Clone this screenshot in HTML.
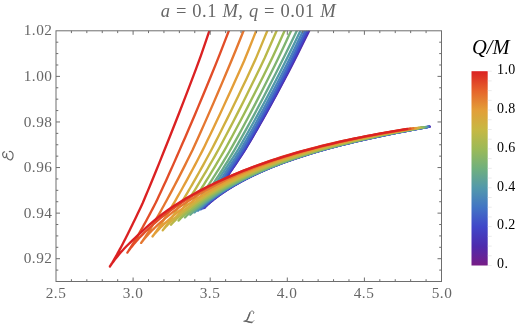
<!DOCTYPE html>
<html><head><meta charset="utf-8"><style>
html,body{margin:0;padding:0;background:#fff;}
body{width:523px;height:328px;position:relative;overflow:hidden;font-family:"Liberation Serif",serif;}
svg{position:absolute;left:0;top:0;}
.xl,.yl,.cl,.title,.qm{will-change:transform;}
.xl{position:absolute;top:284px;width:40px;text-align:center;font-size:15.3px;letter-spacing:0.5px;color:#666;line-height:18px;}
.yl{position:absolute;left:0;width:52.5px;text-align:right;font-size:15.3px;letter-spacing:0.5px;color:#666;line-height:18px;}
.cl{position:absolute;left:497px;font-size:14px;letter-spacing:0.4px;color:#000;line-height:18px;}
.title{position:absolute;left:0;width:497px;top:0px;text-align:center;font-size:18.5px;letter-spacing:0.5px;word-spacing:0.3px;color:#666;line-height:22px;white-space:pre;}
.qm{position:absolute;left:472px;top:36px;font-size:20.5px;font-style:italic;color:#000;line-height:22px;}
</style></head><body>
<svg width="523" height="328" viewBox="0 0 523 328">
<defs><clipPath id="c"><rect x="56.0" y="30.8" width="385.5" height="250.7"/></clipPath>
<linearGradient id="g" x1="0" y1="0" x2="0" y2="1"><stop offset="0.00" stop-color="#db2122"/><stop offset="0.05" stop-color="#e04227"/><stop offset="0.10" stop-color="#e6632b"/><stop offset="0.15" stop-color="#e48132"/><stop offset="0.20" stop-color="#e39e38"/><stop offset="0.25" stop-color="#d5ab3d"/><stop offset="0.30" stop-color="#c7b842"/><stop offset="0.35" stop-color="#b1b94d"/><stop offset="0.40" stop-color="#9cba57"/><stop offset="0.45" stop-color="#86b56a"/><stop offset="0.50" stop-color="#70b07d"/><stop offset="0.55" stop-color="#61a494"/><stop offset="0.60" stop-color="#5299ab"/><stop offset="0.65" stop-color="#4a87b8"/><stop offset="0.70" stop-color="#4275c4"/><stop offset="0.75" stop-color="#415ec7"/><stop offset="0.80" stop-color="#4047c9"/><stop offset="0.85" stop-color="#4639bb"/><stop offset="0.90" stop-color="#4d2bad"/><stop offset="0.95" stop-color="#62249a"/><stop offset="1.00" stop-color="#781c86"/></linearGradient></defs>
<g clip-path="url(#c)" fill="none" stroke-width="2.35" stroke-linecap="round" stroke-linejoin="round">
<path d="M326.37 -3.92 L319.81 9.36 L313.66 21.69 L307.93 33.13 L302.70 43.78 L297.78 53.70 L293.10 62.95 L288.61 71.59 L284.37 79.67 L280.36 87.24 L276.56 94.33 L272.96 100.97 L269.55 107.21 L266.30 113.07 L263.22 118.58 L260.30 123.77 L257.51 128.65 L254.86 133.24 L252.34 137.58 L249.94 141.66 L247.65 145.52 L245.47 149.15 L243.25 152.59 L241.13 155.83 L239.11 158.90 L237.18 161.80 L235.35 164.54 L233.59 167.13 L231.92 169.58 L230.32 171.89 L228.84 174.09 L227.50 176.16 L226.22 178.13 L225.00 179.98 L223.83 181.74 L222.72 183.41 L221.65 184.98 L220.63 186.47 L219.66 187.88 L218.74 189.21 L217.85 190.47 L217.01 191.66 L216.21 192.79 L215.44 193.85 L214.71 194.86 L214.02 195.80 L213.36 196.70 L212.73 197.54 L212.13 198.34 L211.57 199.08 L211.03 199.79 L210.52 200.45 L210.03 201.07 L209.58 201.65 L209.14 202.20 L208.74 202.71 L208.35 203.19 L207.99 203.64 L207.65 204.05 L207.33 204.44 L207.04 204.80 L206.76 205.13 L206.50 205.43 L206.26 205.72 L206.04 205.97 L205.84 206.21 L205.65 206.43 L205.48 206.62 L205.33 206.79 L205.19 206.95 L205.06 207.09 L204.96 207.21 L204.86 207.31 L204.78 207.40 L204.71 207.47 L204.66 207.53 L204.62 207.58 L204.59 207.61 L204.57 207.63 L204.56 207.63 L204.56 207.63 L204.56 207.63 L204.57 207.63 L204.57 207.62 L204.58 207.62 L204.60 207.60 L204.62 207.57 L204.66 207.53 L204.72 207.46 L204.80 207.38 L204.91 207.27 L205.05 207.13 L205.22 206.95 L205.44 206.74 L205.69 206.48 L206.00 206.18 L206.37 205.83 L206.79 205.43 L207.27 204.98 L207.82 204.48 L208.44 203.92 L209.13 203.30 L209.91 202.63 L210.76 201.90 L211.69 201.12 L212.71 200.28 L213.81 199.39 L215.01 198.46 L216.29 197.47 L217.66 196.44 L219.12 195.36 L220.68 194.25 L222.33 193.10 L224.07 191.91 L225.91 190.69 L227.83 189.44 L229.85 188.17 L231.96 186.88 L234.16 185.56 L236.45 184.23 L238.83 182.88 L241.29 181.52 L243.84 180.16 L246.48 178.78 L249.20 177.40 L252.00 176.02 L254.89 174.64 L257.85 173.26 L260.89 171.89 L264.01 170.51 L267.20 169.15 L270.47 167.79 L273.80 166.44 L277.21 165.10 L280.68 163.76 L284.23 162.44 L287.83 161.14 L291.50 159.84 L295.24 158.56 L299.03 157.29 L302.88 156.04 L306.80 154.80 L310.76 153.58 L314.78 152.37 L318.86 151.17 L322.99 149.99 L327.17 148.83 L331.40 147.68 L335.67 146.55 L340.00 145.44 L344.37 144.34 L348.78 143.25 L353.24 142.18 L357.74 141.12 L362.28 140.08 L366.87 139.05 L371.49 138.04 L376.15 137.03 L380.85 136.04 L385.59 135.06 L390.36 134.09 L395.16 133.14 L400.01 132.19 L404.88 131.24 L409.78 130.31 L414.72 129.38 L419.69 128.46 L424.69 127.54 L429.72 126.62" stroke="#5a27a2"/>
<path d="M325.71 -3.94 L319.16 9.36 L313.02 21.70 L307.31 33.16 L302.12 43.82 L297.23 53.75 L292.58 63.02 L288.11 71.67 L283.89 79.76 L279.90 87.33 L276.12 94.43 L272.54 101.09 L269.14 107.33 L265.91 113.20 L262.84 118.72 L259.93 123.91 L257.16 128.80 L254.52 133.40 L252.01 137.74 L249.62 141.83 L247.34 145.69 L245.16 149.33 L242.93 152.77 L240.80 156.02 L238.77 159.09 L236.83 161.99 L234.98 164.73 L233.22 167.32 L231.54 169.78 L229.93 172.10 L228.45 174.29 L227.10 176.37 L225.82 178.34 L224.59 180.20 L223.42 181.96 L222.30 183.63 L221.23 185.20 L220.21 186.69 L219.24 188.10 L218.31 189.44 L217.42 190.70 L216.57 191.89 L215.77 193.02 L215.00 194.09 L214.27 195.09 L213.57 196.04 L212.91 196.94 L212.28 197.78 L211.68 198.58 L211.11 199.32 L210.57 200.03 L210.06 200.69 L209.57 201.31 L209.11 201.90 L208.68 202.45 L208.27 202.96 L207.89 203.44 L207.52 203.88 L207.18 204.30 L206.86 204.69 L206.57 205.04 L206.29 205.38 L206.03 205.68 L205.79 205.97 L205.57 206.22 L205.36 206.46 L205.17 206.68 L205.00 206.87 L204.85 207.05 L204.71 207.20 L204.59 207.34 L204.48 207.46 L204.38 207.56 L204.30 207.65 L204.23 207.73 L204.18 207.78 L204.14 207.83 L204.11 207.86 L204.09 207.88 L204.09 207.88 L204.09 207.88 L204.09 207.88 L204.09 207.88 L204.09 207.88 L204.10 207.87 L204.12 207.85 L204.15 207.82 L204.19 207.78 L204.25 207.72 L204.33 207.63 L204.43 207.52 L204.57 207.38 L204.75 207.20 L204.96 206.99 L205.22 206.73 L205.53 206.43 L205.90 206.08 L206.32 205.68 L206.81 205.23 L207.36 204.72 L207.99 204.16 L208.69 203.54 L209.46 202.86 L210.32 202.13 L211.26 201.35 L212.28 200.51 L213.39 199.62 L214.59 198.67 L215.88 197.68 L217.26 196.65 L218.73 195.57 L220.29 194.45 L221.95 193.29 L223.70 192.10 L225.54 190.88 L227.47 189.62 L229.49 188.34 L231.61 187.04 L233.82 185.72 L236.11 184.38 L238.50 183.03 L240.97 181.66 L243.53 180.29 L246.17 178.91 L248.90 177.52 L251.71 176.14 L254.60 174.75 L257.56 173.36 L260.61 171.98 L263.73 170.60 L266.93 169.23 L270.20 167.86 L273.54 166.51 L276.95 165.16 L280.43 163.83 L283.98 162.50 L287.59 161.19 L291.27 159.89 L295.01 158.61 L298.80 157.33 L302.66 156.08 L306.58 154.84 L310.55 153.61 L314.57 152.40 L318.65 151.20 L322.79 150.02 L326.97 148.86 L331.20 147.71 L335.48 146.58 L339.81 145.46 L344.18 144.36 L348.60 143.27 L353.07 142.20 L357.57 141.14 L362.12 140.10 L366.71 139.07 L371.33 138.05 L376.00 137.05 L380.70 136.06 L385.44 135.08 L390.22 134.11 L395.03 133.15 L399.87 132.20 L404.75 131.26 L409.66 130.32 L414.60 129.39 L419.57 128.47 L424.57 127.55 L429.60 126.63" stroke="#4836b8"/>
<path d="M324.37 -3.96 L317.83 9.38 L311.70 21.75 L306.00 33.24 L300.82 43.93 L295.93 53.89 L291.30 63.18 L286.86 71.85 L282.67 79.97 L278.70 87.56 L274.94 94.68 L271.38 101.35 L268.00 107.61 L264.79 113.50 L261.74 119.03 L258.84 124.23 L256.09 129.13 L253.46 133.75 L250.97 138.10 L248.59 142.20 L246.32 146.07 L244.14 149.72 L241.89 153.17 L239.75 156.43 L237.71 159.51 L235.76 162.42 L233.91 165.17 L232.14 167.77 L230.45 170.23 L228.84 172.56 L227.36 174.76 L226.01 176.84 L224.71 178.81 L223.48 180.68 L222.30 182.44 L221.17 184.11 L220.09 185.70 L219.07 187.19 L218.08 188.61 L217.15 189.94 L216.26 191.21 L215.40 192.41 L214.59 193.54 L213.82 194.60 L213.08 195.61 L212.38 196.56 L211.71 197.46 L211.08 198.31 L210.48 199.11 L209.90 199.86 L209.36 200.57 L208.85 201.23 L208.36 201.85 L207.90 202.44 L207.46 202.99 L207.05 203.50 L206.66 203.98 L206.30 204.43 L205.96 204.85 L205.64 205.24 L205.34 205.60 L205.06 205.93 L204.80 206.24 L204.56 206.52 L204.33 206.78 L204.13 207.02 L203.94 207.23 L203.77 207.43 L203.61 207.60 L203.47 207.76 L203.35 207.90 L203.24 208.02 L203.14 208.12 L203.06 208.21 L202.99 208.29 L202.94 208.34 L202.90 208.39 L202.87 208.42 L202.85 208.44 L202.84 208.44 L202.84 208.44 L202.85 208.44 L202.85 208.44 L202.85 208.44 L202.86 208.43 L202.88 208.41 L202.91 208.38 L202.95 208.34 L203.01 208.27 L203.09 208.19 L203.20 208.08 L203.34 207.93 L203.52 207.76 L203.73 207.54 L204.00 207.28 L204.31 206.98 L204.68 206.63 L205.11 206.22 L205.60 205.77 L206.16 205.26 L206.79 204.69 L207.50 204.07 L208.28 203.39 L209.15 202.65 L210.10 201.86 L211.13 201.02 L212.25 200.12 L213.46 199.17 L214.76 198.17 L216.16 197.13 L217.64 196.04 L219.22 194.92 L220.89 193.75 L222.65 192.55 L224.50 191.31 L226.45 190.05 L228.49 188.76 L230.62 187.44 L232.84 186.11 L235.15 184.76 L237.55 183.39 L240.04 182.02 L242.61 180.63 L245.27 179.23 L248.01 177.84 L250.83 176.43 L253.74 175.03 L256.72 173.63 L259.78 172.24 L262.92 170.84 L266.13 169.46 L269.41 168.08 L272.77 166.71 L276.19 165.35 L279.68 164.00 L283.24 162.67 L286.87 161.35 L290.56 160.04 L294.31 158.74 L298.12 157.46 L301.99 156.20 L305.92 154.95 L309.90 153.71 L313.94 152.49 L318.03 151.29 L322.18 150.10 L326.37 148.93 L330.62 147.78 L334.91 146.64 L339.25 145.52 L343.64 144.42 L348.07 143.32 L352.54 142.25 L357.06 141.19 L361.62 140.14 L366.22 139.11 L370.86 138.09 L375.53 137.09 L380.25 136.10 L385.00 135.11 L389.79 134.14 L394.61 133.18 L399.46 132.23 L404.35 131.29 L409.27 130.36 L414.22 129.43 L419.21 128.50 L424.22 127.58 L429.26 126.66" stroke="#4049c9"/>
<path d="M322.53 -3.98 L316.00 9.42 L309.88 21.84 L304.20 33.38 L299.03 44.11 L294.16 54.11 L289.53 63.44 L285.09 72.15 L280.88 80.30 L276.91 87.92 L273.14 95.07 L269.58 101.77 L266.19 108.06 L262.98 113.97 L259.93 119.52 L257.03 124.75 L254.27 129.67 L251.64 134.30 L249.14 138.67 L246.76 142.79 L244.50 146.67 L242.28 150.34 L240.02 153.81 L237.87 157.08 L235.82 160.17 L233.87 163.09 L232.01 165.85 L230.23 168.47 L228.54 170.94 L226.92 173.27 L225.47 175.49 L224.11 177.58 L222.81 179.56 L221.56 181.43 L220.37 183.21 L219.24 184.88 L218.16 186.47 L217.13 187.97 L216.14 189.39 L215.20 190.74 L214.30 192.01 L213.44 193.21 L212.63 194.35 L211.85 195.42 L211.11 196.43 L210.41 197.39 L209.74 198.29 L209.10 199.14 L208.49 199.94 L207.92 200.70 L207.37 201.41 L206.85 202.08 L206.36 202.70 L205.90 203.29 L205.46 203.84 L205.05 204.36 L204.66 204.84 L204.30 205.29 L203.95 205.71 L203.63 206.10 L203.33 206.46 L203.05 206.80 L202.79 207.11 L202.55 207.39 L202.32 207.65 L202.12 207.89 L201.93 208.11 L201.75 208.30 L201.60 208.48 L201.46 208.64 L201.33 208.77 L201.22 208.90 L201.13 209.00 L201.05 209.09 L200.98 209.16 L200.92 209.22 L200.88 209.27 L200.85 209.30 L200.83 209.32 L200.83 209.32 L200.83 209.32 L200.83 209.32 L200.83 209.32 L200.84 209.32 L200.84 209.31 L200.86 209.29 L200.89 209.26 L200.93 209.21 L200.99 209.15 L201.08 209.07 L201.19 208.95 L201.33 208.81 L201.51 208.63 L201.73 208.41 L202.00 208.15 L202.32 207.84 L202.70 207.49 L203.13 207.08 L203.63 206.62 L204.20 206.10 L204.85 205.53 L205.56 204.90 L206.36 204.22 L207.24 203.48 L208.20 202.68 L209.25 201.83 L210.39 200.92 L211.61 199.97 L212.93 198.96 L214.34 197.91 L215.84 196.81 L217.44 195.67 L219.13 194.49 L220.91 193.28 L222.79 192.03 L224.76 190.76 L226.82 189.45 L228.97 188.12 L231.22 186.77 L233.55 185.41 L235.97 184.02 L238.48 182.63 L241.08 181.22 L243.76 179.81 L246.52 178.39 L249.37 176.97 L252.30 175.54 L255.30 174.12 L258.39 172.70 L261.55 171.29 L264.78 169.88 L268.09 168.48 L271.47 167.09 L274.91 165.71 L278.43 164.35 L282.01 162.99 L285.66 161.65 L289.37 160.32 L293.14 159.01 L296.97 157.71 L300.86 156.43 L304.81 155.16 L308.82 153.91 L312.88 152.68 L316.99 151.46 L321.16 150.26 L325.37 149.08 L329.64 147.92 L333.95 146.77 L338.31 145.64 L342.72 144.52 L347.17 143.43 L351.67 142.34 L356.20 141.28 L360.78 140.23 L365.40 139.19 L370.06 138.17 L374.76 137.16 L379.49 136.16 L384.26 135.18 L389.07 134.21 L393.91 133.24 L398.78 132.29 L403.69 131.35 L408.63 130.41 L413.60 129.48 L418.60 128.56 L423.63 127.64 L428.69 126.72" stroke="#4267c6"/>
<path d="M320.17 -4.01 L313.66 9.46 L307.55 21.96 L301.88 33.57 L296.69 44.37 L291.81 54.43 L287.16 63.82 L282.69 72.59 L278.47 80.78 L274.47 88.46 L270.69 95.65 L267.10 102.39 L263.70 108.72 L260.48 114.67 L257.41 120.26 L254.50 125.51 L251.73 130.46 L249.10 135.13 L246.59 139.52 L244.20 143.67 L241.92 147.58 L239.65 151.27 L237.39 154.76 L235.23 158.05 L233.18 161.16 L231.22 164.10 L229.35 166.88 L227.57 169.51 L225.87 172.00 L224.28 174.35 L222.84 176.58 L221.46 178.68 L220.15 180.68 L218.89 182.56 L217.70 184.35 L216.55 186.04 L215.46 187.63 L214.42 189.15 L213.43 190.58 L212.48 191.93 L211.57 193.21 L210.71 194.42 L209.89 195.56 L209.11 196.64 L208.36 197.66 L207.65 198.62 L206.98 199.53 L206.33 200.39 L205.72 201.20 L205.14 201.96 L204.60 202.67 L204.08 203.34 L203.58 203.98 L203.12 204.57 L202.68 205.12 L202.26 205.64 L201.87 206.13 L201.50 206.58 L201.16 207.00 L200.83 207.40 L200.53 207.76 L200.25 208.10 L199.98 208.41 L199.74 208.70 L199.52 208.96 L199.31 209.20 L199.12 209.42 L198.95 209.61 L198.79 209.79 L198.65 209.95 L198.52 210.09 L198.41 210.21 L198.32 210.32 L198.23 210.41 L198.17 210.48 L198.11 210.54 L198.07 210.59 L198.04 210.62 L198.02 210.64 L198.01 210.64 L198.01 210.64 L198.02 210.64 L198.02 210.64 L198.02 210.64 L198.03 210.63 L198.05 210.61 L198.08 210.58 L198.12 210.53 L198.18 210.47 L198.27 210.38 L198.38 210.26 L198.53 210.12 L198.71 209.94 L198.94 209.71 L199.22 209.45 L199.54 209.14 L199.93 208.77 L200.37 208.36 L200.88 207.89 L201.46 207.37 L202.12 206.79 L202.85 206.16 L203.66 205.46 L204.56 204.71 L205.54 203.90 L206.61 203.04 L207.76 202.13 L209.01 201.16 L210.35 200.14 L211.79 199.08 L213.32 197.97 L214.94 196.81 L216.65 195.62 L218.46 194.39 L220.37 193.13 L222.37 191.84 L224.46 190.52 L226.64 189.17 L228.92 187.81 L231.28 186.42 L233.73 185.02 L236.28 183.60 L238.90 182.17 L241.62 180.74 L244.41 179.30 L247.29 177.85 L250.25 176.40 L253.29 174.96 L256.41 173.51 L259.60 172.07 L262.87 170.64 L266.21 169.21 L269.62 167.79 L273.10 166.38 L276.65 164.98 L280.26 163.60 L283.94 162.23 L287.68 160.87 L291.49 159.53 L295.35 158.20 L299.27 156.89 L303.25 155.59 L307.29 154.32 L311.38 153.06 L315.53 151.82 L319.72 150.59 L323.97 149.39 L328.26 148.20 L332.61 147.03 L337.00 145.88 L341.43 144.74 L345.91 143.63 L350.44 142.53 L355.00 141.44 L359.61 140.38 L364.26 139.33 L368.94 138.30 L373.67 137.28 L378.43 136.27 L383.23 135.28 L388.06 134.30 L392.93 133.33 L397.83 132.38 L402.76 131.43 L407.73 130.49 L412.72 129.56 L417.75 128.64 L422.81 127.72 L427.89 126.80" stroke="#4882bb"/>
<path d="M317.28 -4.07 L310.77 9.53 L304.67 22.13 L298.98 33.84 L293.71 44.73 L288.75 54.87 L284.03 64.34 L279.54 73.18 L275.29 81.45 L271.27 89.18 L267.47 96.43 L263.86 103.23 L260.44 109.62 L257.20 115.61 L254.12 121.25 L251.19 126.55 L248.41 131.55 L245.76 136.25 L243.24 140.68 L240.84 144.86 L238.56 148.81 L236.22 152.53 L233.96 156.05 L231.80 159.37 L229.74 162.50 L227.78 165.47 L225.90 168.27 L224.12 170.93 L222.42 173.44 L220.87 175.81 L219.42 178.05 L218.04 180.18 L216.72 182.19 L215.45 184.09 L214.25 185.89 L213.10 187.60 L212.00 189.21 L210.95 190.74 L209.95 192.18 L209.00 193.55 L208.09 194.84 L207.22 196.06 L206.40 197.21 L205.61 198.30 L204.86 199.33 L204.15 200.30 L203.47 201.22 L202.82 202.08 L202.21 202.90 L201.63 203.66 L201.08 204.39 L200.55 205.06 L200.06 205.70 L199.59 206.30 L199.15 206.86 L198.73 207.38 L198.34 207.87 L197.97 208.33 L197.62 208.76 L197.30 209.15 L196.99 209.52 L196.71 209.86 L196.44 210.18 L196.20 210.47 L195.97 210.73 L195.77 210.97 L195.58 211.19 L195.40 211.39 L195.25 211.57 L195.10 211.73 L194.98 211.87 L194.87 212.00 L194.77 212.10 L194.69 212.19 L194.62 212.27 L194.56 212.33 L194.52 212.38 L194.49 212.41 L194.48 212.43 L194.47 212.43 L194.47 212.43 L194.47 212.43 L194.47 212.43 L194.48 212.42 L194.49 212.41 L194.50 212.39 L194.53 212.36 L194.58 212.32 L194.64 212.25 L194.73 212.16 L194.85 212.04 L195.00 211.89 L195.19 211.70 L195.42 211.47 L195.70 211.20 L196.04 210.87 L196.43 210.50 L196.89 210.08 L197.41 209.59 L198.01 209.06 L198.68 208.46 L199.43 207.81 L200.26 207.09 L201.17 206.32 L202.18 205.50 L203.27 204.61 L204.45 203.68 L205.72 202.68 L207.09 201.64 L208.55 200.56 L210.11 199.42 L211.76 198.24 L213.51 197.03 L215.35 195.77 L217.29 194.49 L219.32 193.17 L221.45 191.82 L223.67 190.45 L225.98 189.06 L228.38 187.64 L230.88 186.22 L233.46 184.77 L236.12 183.32 L238.87 181.86 L241.71 180.39 L244.63 178.92 L247.63 177.44 L250.71 175.97 L253.87 174.50 L257.10 173.03 L260.41 171.57 L263.79 170.12 L267.24 168.67 L270.76 167.23 L274.35 165.81 L278.00 164.39 L281.72 162.99 L285.51 161.61 L289.35 160.24 L293.26 158.88 L297.22 157.54 L301.24 156.22 L305.31 154.91 L309.45 153.62 L313.63 152.35 L317.86 151.10 L322.15 149.87 L326.48 148.65 L330.86 147.45 L335.29 146.27 L339.77 145.11 L344.29 143.97 L348.85 142.85 L353.45 141.74 L358.09 140.65 L362.78 139.58 L367.50 138.52 L372.26 137.48 L377.06 136.46 L381.89 135.45 L386.76 134.46 L391.66 133.48 L396.60 132.51 L401.57 131.55 L406.57 130.61 L411.60 129.67 L416.66 128.75 L421.75 127.83 L426.87 126.91" stroke="#5299aa"/>
<path d="M313.46 -4.14 L306.96 9.60 L300.87 22.34 L295.16 34.18 L289.81 45.18 L284.78 55.44 L280.01 65.01 L275.48 73.94 L271.20 82.30 L267.15 90.12 L263.32 97.45 L259.69 104.32 L256.25 110.77 L252.99 116.83 L249.89 122.53 L246.95 127.89 L244.15 132.94 L241.48 137.69 L238.95 142.17 L236.54 146.40 L234.23 150.39 L231.95 154.15 L229.79 157.70 L227.72 161.06 L225.75 164.23 L223.88 167.23 L222.08 170.07 L220.38 172.75 L218.74 175.29 L217.19 177.69 L215.70 179.96 L214.29 182.11 L212.93 184.14 L211.64 186.06 L210.41 187.89 L209.23 189.61 L208.11 191.24 L207.04 192.78 L206.02 194.24 L205.04 195.62 L204.12 196.93 L203.23 198.17 L202.39 199.33 L201.58 200.43 L200.82 201.48 L200.09 202.46 L199.40 203.39 L198.74 204.26 L198.12 205.08 L197.52 205.86 L196.96 206.59 L196.43 207.28 L195.93 207.92 L195.45 208.53 L195.00 209.09 L194.57 209.63 L194.17 210.12 L193.80 210.58 L193.45 211.02 L193.12 211.42 L192.81 211.79 L192.52 212.13 L192.25 212.45 L192.00 212.74 L191.77 213.01 L191.56 213.26 L191.37 213.48 L191.19 213.68 L191.03 213.86 L190.89 214.03 L190.76 214.17 L190.65 214.29 L190.55 214.40 L190.47 214.49 L190.40 214.57 L190.34 214.63 L190.30 214.68 L190.27 214.71 L190.25 214.73 L190.25 214.73 L190.25 214.73 L190.25 214.73 L190.25 214.73 L190.25 214.73 L190.26 214.72 L190.28 214.70 L190.31 214.66 L190.36 214.61 L190.43 214.54 L190.52 214.45 L190.64 214.32 L190.79 214.16 L190.99 213.97 L191.23 213.73 L191.52 213.44 L191.87 213.10 L192.27 212.71 L192.74 212.27 L193.28 211.76 L193.89 211.20 L194.58 210.58 L195.35 209.90 L196.21 209.16 L197.15 208.36 L198.17 207.50 L199.29 206.58 L200.50 205.61 L201.81 204.59 L203.21 203.51 L204.71 202.38 L206.30 201.21 L207.99 200.00 L209.77 198.74 L211.66 197.45 L213.64 196.12 L215.71 194.77 L217.88 193.38 L220.14 191.97 L222.49 190.54 L224.94 189.09 L227.48 187.62 L230.10 186.14 L232.81 184.65 L235.61 183.15 L238.49 181.65 L241.46 180.14 L244.51 178.64 L247.63 177.13 L250.84 175.62 L254.12 174.12 L257.47 172.63 L260.90 171.14 L264.40 169.66 L267.97 168.20 L271.60 166.74 L275.30 165.30 L279.07 163.87 L282.90 162.45 L286.79 161.05 L290.74 159.66 L294.75 158.29 L298.82 156.94 L302.94 155.61 L307.12 154.29 L311.34 152.99 L315.62 151.71 L319.96 150.45 L324.33 149.21 L328.76 147.98 L333.23 146.78 L337.75 145.59 L342.31 144.42 L346.92 143.27 L351.56 142.14 L356.25 141.02 L360.98 139.93 L365.74 138.85 L370.55 137.78 L375.39 136.74 L380.26 135.71 L385.17 134.69 L390.12 133.69 L395.09 132.70 L400.10 131.73 L405.14 130.77 L410.22 129.82 L415.32 128.88 L420.45 127.96 L425.61 127.04" stroke="#67a98b"/>
<path d="M307.38 -4.18 L300.96 9.72 L294.94 22.62 L289.34 34.60 L284.18 45.74 L279.32 56.12 L274.62 65.80 L270.11 74.85 L265.84 83.31 L261.80 91.22 L257.99 98.64 L254.37 105.60 L250.94 112.13 L247.69 118.26 L244.60 124.03 L241.66 129.46 L238.87 134.57 L236.22 139.38 L233.70 143.92 L231.29 148.19 L228.95 152.23 L226.67 156.04 L224.50 159.64 L222.44 163.04 L220.47 166.25 L218.59 169.29 L216.79 172.16 L215.08 174.88 L213.45 177.44 L211.90 179.88 L210.41 182.17 L208.99 184.35 L207.64 186.41 L206.35 188.36 L205.12 190.20 L203.94 191.95 L202.82 193.60 L201.75 195.17 L200.73 196.64 L199.75 198.04 L198.83 199.37 L197.94 200.62 L197.10 201.80 L196.30 202.92 L195.53 203.97 L194.81 204.97 L194.12 205.91 L193.46 206.79 L192.84 207.63 L192.24 208.42 L191.68 209.16 L191.15 209.85 L190.65 210.50 L190.17 211.12 L189.72 211.69 L189.30 212.23 L188.90 212.73 L188.52 213.20 L188.17 213.64 L187.84 214.05 L187.53 214.42 L187.25 214.77 L186.98 215.10 L186.73 215.39 L186.50 215.67 L186.29 215.91 L186.10 216.14 L185.92 216.34 L185.76 216.53 L185.62 216.69 L185.49 216.84 L185.38 216.96 L185.28 217.07 L185.20 217.17 L185.13 217.24 L185.08 217.31 L185.03 217.35 L185.00 217.39 L184.98 217.40 L184.98 217.41 L184.98 217.41 L184.98 217.41 L184.98 217.41 L184.99 217.40 L185.00 217.39 L185.02 217.37 L185.05 217.33 L185.10 217.28 L185.17 217.21 L185.26 217.11 L185.39 216.97 L185.55 216.80 L185.75 216.59 L186.01 216.34 L186.31 216.03 L186.67 215.68 L187.09 215.26 L187.58 214.79 L188.14 214.26 L188.77 213.67 L189.49 213.02 L190.28 212.30 L191.17 211.52 L192.14 210.68 L193.20 209.78 L194.35 208.82 L195.60 207.80 L196.95 206.72 L198.39 205.60 L199.93 204.42 L201.57 203.20 L203.31 201.93 L205.14 200.63 L207.07 199.28 L209.10 197.91 L211.23 196.50 L213.45 195.06 L215.77 193.60 L218.18 192.12 L220.68 190.62 L223.28 189.10 L225.96 187.58 L228.73 186.04 L231.59 184.50 L234.53 182.95 L237.56 181.39 L240.67 179.84 L243.85 178.29 L247.12 176.75 L250.46 175.21 L253.87 173.67 L257.36 172.15 L260.92 170.63 L264.55 169.13 L268.25 167.64 L272.01 166.16 L275.84 164.70 L279.73 163.25 L283.68 161.82 L287.69 160.40 L291.76 159.00 L295.88 157.62 L300.06 156.26 L304.30 154.92 L308.58 153.59 L312.92 152.28 L317.31 151.00 L321.74 149.73 L326.23 148.48 L330.76 147.25 L335.33 146.04 L339.95 144.85 L344.61 143.67 L349.31 142.52 L354.05 141.38 L358.83 140.27 L363.65 139.17 L368.50 138.08 L373.39 137.02 L378.32 135.97 L383.28 134.94 L388.28 133.92 L393.31 132.92 L398.37 131.93 L403.46 130.96 L408.58 129.99 L413.73 129.05 L418.92 128.11 L424.13 127.19" stroke="#7fb470"/>
<path d="M300.60 -4.21 L294.22 9.89 L288.24 22.97 L282.67 35.11 L277.52 46.41 L272.67 56.94 L267.94 66.76 L263.40 75.93 L259.11 84.50 L255.06 92.53 L251.22 100.05 L247.59 107.11 L244.15 113.73 L240.88 119.95 L237.78 125.80 L234.84 131.30 L232.04 136.48 L229.38 141.37 L226.85 145.97 L224.43 150.31 L222.07 154.40 L219.82 158.27 L217.67 161.92 L215.63 165.36 L213.68 168.62 L211.82 171.70 L210.04 174.62 L208.35 177.37 L206.74 179.98 L205.20 182.44 L203.73 184.78 L202.33 186.98 L200.99 189.07 L199.71 191.05 L198.49 192.92 L197.33 194.69 L196.22 196.37 L195.16 197.96 L194.15 199.46 L193.19 200.88 L192.27 202.22 L191.40 203.49 L190.57 204.69 L189.77 205.83 L189.02 206.90 L188.30 207.91 L187.62 208.86 L186.97 209.76 L186.35 210.61 L185.77 211.41 L185.21 212.16 L184.68 212.87 L184.19 213.53 L183.72 214.15 L183.27 214.74 L182.85 215.28 L182.46 215.79 L182.09 216.27 L181.74 216.72 L181.41 217.13 L181.11 217.51 L180.83 217.87 L180.56 218.19 L180.32 218.50 L180.09 218.77 L179.88 219.03 L179.69 219.25 L179.52 219.46 L179.36 219.65 L179.22 219.82 L179.09 219.96 L178.98 220.09 L178.89 220.20 L178.80 220.30 L178.74 220.38 L178.68 220.44 L178.64 220.49 L178.61 220.52 L178.59 220.54 L178.58 220.55 L178.58 220.55 L178.59 220.55 L178.59 220.54 L178.59 220.54 L178.60 220.52 L178.63 220.50 L178.66 220.46 L178.71 220.41 L178.78 220.33 L178.88 220.22 L179.02 220.07 L179.19 219.89 L179.40 219.66 L179.66 219.39 L179.98 219.06 L180.36 218.68 L180.80 218.24 L181.31 217.73 L181.89 217.16 L182.56 216.53 L183.30 215.83 L184.13 215.07 L185.05 214.24 L186.06 213.34 L187.17 212.39 L188.37 211.37 L189.67 210.29 L191.06 209.15 L192.56 207.96 L194.15 206.72 L195.85 205.44 L197.65 204.10 L199.54 202.73 L201.54 201.32 L203.63 199.87 L205.82 198.40 L208.11 196.90 L210.50 195.37 L212.98 193.82 L215.55 192.26 L218.22 190.68 L220.97 189.09 L223.82 187.49 L226.75 185.89 L229.76 184.28 L232.86 182.68 L236.05 181.07 L239.31 179.47 L242.65 177.87 L246.06 176.28 L249.55 174.70 L253.12 173.12 L256.75 171.56 L260.46 170.02 L264.23 168.48 L268.06 166.96 L271.97 165.46 L275.93 163.97 L279.95 162.51 L284.04 161.06 L288.18 159.62 L292.38 158.21 L296.63 156.82 L300.94 155.44 L305.30 154.09 L309.70 152.76 L314.16 151.44 L318.67 150.15 L323.22 148.88 L327.82 147.63 L332.46 146.39 L337.15 145.18 L341.87 143.99 L346.64 142.82 L351.45 141.67 L356.30 140.53 L361.18 139.42 L366.10 138.32 L371.06 137.25 L376.05 136.19 L381.08 135.14 L386.13 134.12 L391.23 133.11 L396.35 132.11 L401.50 131.13 L406.68 130.17 L411.90 129.22 L417.14 128.29 L422.41 127.37" stroke="#9cba56"/>
<path d="M292.10 -4.31 L285.80 10.06 L279.89 23.39 L274.43 35.76 L269.41 47.28 L264.68 58.00 L259.96 68.00 L255.42 77.35 L251.13 86.08 L247.08 94.26 L243.25 101.93 L239.62 109.11 L236.19 115.86 L232.93 122.20 L229.83 128.16 L226.89 133.77 L224.10 139.05 L221.45 144.02 L218.92 148.71 L216.48 153.13 L214.13 157.30 L211.89 161.24 L209.75 164.96 L207.72 168.48 L205.78 171.80 L203.93 174.94 L202.17 177.91 L200.49 180.72 L198.89 183.37 L197.36 185.89 L195.90 188.27 L194.51 190.52 L193.18 192.65 L191.91 194.67 L190.70 196.57 L189.54 198.38 L188.44 200.09 L187.39 201.71 L186.39 203.24 L185.43 204.69 L184.52 206.06 L183.66 207.35 L182.83 208.58 L182.04 209.74 L181.29 210.83 L180.58 211.86 L179.90 212.83 L179.26 213.75 L178.65 214.62 L178.06 215.43 L177.51 216.20 L176.99 216.92 L176.50 217.60 L176.03 218.23 L175.59 218.83 L175.18 219.39 L174.79 219.91 L174.42 220.40 L174.07 220.85 L173.75 221.27 L173.45 221.66 L173.17 222.02 L172.90 222.36 L172.66 222.67 L172.44 222.95 L172.23 223.21 L172.04 223.44 L171.87 223.66 L171.71 223.85 L171.57 224.02 L171.45 224.17 L171.34 224.30 L171.24 224.41 L171.16 224.51 L171.09 224.59 L171.04 224.65 L171.00 224.70 L170.97 224.74 L170.95 224.76 L170.95 224.76 L170.95 224.76 L170.95 224.76 L170.95 224.76 L170.95 224.75 L170.97 224.74 L170.99 224.71 L171.02 224.67 L171.08 224.61 L171.16 224.52 L171.26 224.40 L171.40 224.24 L171.59 224.04 L171.81 223.79 L172.09 223.49 L172.43 223.13 L172.82 222.71 L173.29 222.22 L173.83 221.67 L174.45 221.05 L175.15 220.36 L175.93 219.60 L176.80 218.77 L177.77 217.87 L178.83 216.90 L179.99 215.87 L181.24 214.77 L182.60 213.60 L184.06 212.38 L185.62 211.10 L187.28 209.77 L189.05 208.39 L190.91 206.96 L192.88 205.49 L194.96 203.99 L197.13 202.45 L199.40 200.88 L201.77 199.28 L204.24 197.66 L206.81 196.02 L209.47 194.36 L212.22 192.69 L215.06 191.01 L218.00 189.33 L221.02 187.64 L224.12 185.94 L227.31 184.25 L230.59 182.57 L233.94 180.88 L237.37 179.21 L240.88 177.55 L244.46 175.89 L248.11 174.25 L251.84 172.62 L255.63 171.01 L259.49 169.42 L263.42 167.84 L267.41 166.28 L271.47 164.74 L275.58 163.21 L279.75 161.71 L283.98 160.23 L288.27 158.78 L292.61 157.34 L297.00 155.93 L301.45 154.53 L305.94 153.17 L310.49 151.82 L315.08 150.50 L319.72 149.19 L324.40 147.92 L329.12 146.66 L333.89 145.43 L338.70 144.22 L343.55 143.03 L348.44 141.86 L353.37 140.71 L358.33 139.59 L363.33 138.48 L368.36 137.40 L373.43 136.34 L378.54 135.29 L383.67 134.27 L388.84 133.26 L394.04 132.27 L399.26 131.30 L404.52 130.34 L409.81 129.40 L415.12 128.48 L420.46 127.57" stroke="#b9b849"/>
<path d="M282.23 -4.47 L276.02 10.25 L270.21 23.90 L264.90 36.58 L260.06 48.37 L255.50 59.35 L250.80 69.60 L246.30 79.17 L242.05 88.12 L238.04 96.49 L234.24 104.34 L230.65 111.70 L227.24 118.61 L224.02 125.10 L220.95 131.21 L218.05 136.95 L215.28 142.36 L212.66 147.46 L210.14 152.26 L207.69 156.79 L205.37 161.06 L203.15 165.10 L201.04 168.91 L199.03 172.51 L197.11 175.92 L195.29 179.13 L193.54 182.18 L191.88 185.06 L190.30 187.78 L188.78 190.36 L187.34 192.79 L185.97 195.10 L184.65 197.29 L183.40 199.35 L182.20 201.31 L181.06 203.16 L179.97 204.92 L178.94 206.58 L177.95 208.15 L177.00 209.63 L176.10 211.04 L175.25 212.37 L174.43 213.62 L173.65 214.81 L172.91 215.93 L172.21 216.99 L171.54 217.99 L170.90 218.93 L170.30 219.82 L169.72 220.65 L169.18 221.44 L168.67 222.18 L168.18 222.88 L167.72 223.53 L167.28 224.14 L166.87 224.71 L166.49 225.25 L166.13 225.75 L165.78 226.22 L165.47 226.65 L165.17 227.05 L164.89 227.42 L164.63 227.77 L164.39 228.08 L164.17 228.37 L163.97 228.64 L163.78 228.88 L163.61 229.10 L163.46 229.29 L163.32 229.47 L163.20 229.62 L163.09 229.76 L162.99 229.88 L162.91 229.98 L162.85 230.06 L162.79 230.12 L162.75 230.17 L162.72 230.21 L162.70 230.23 L162.70 230.24 L162.70 230.24 L162.70 230.23 L162.70 230.23 L162.71 230.22 L162.72 230.21 L162.74 230.18 L162.78 230.13 L162.84 230.06 L162.93 229.96 L163.04 229.82 L163.19 229.64 L163.38 229.42 L163.62 229.14 L163.92 228.80 L164.28 228.40 L164.70 227.93 L165.19 227.39 L165.77 226.77 L166.42 226.08 L167.16 225.32 L167.98 224.47 L168.90 223.55 L169.92 222.56 L171.04 221.49 L172.25 220.35 L173.57 219.14 L174.99 217.86 L176.52 216.52 L178.15 215.12 L179.88 213.67 L181.72 212.16 L183.67 210.61 L185.72 209.01 L187.87 207.38 L190.13 205.71 L192.49 204.01 L194.95 202.29 L197.50 200.54 L200.16 198.78 L202.91 197.00 L205.75 195.21 L208.68 193.41 L211.71 191.61 L214.82 189.81 L218.02 188.00 L221.31 186.20 L224.67 184.41 L228.12 182.63 L231.64 180.85 L235.24 179.09 L238.92 177.35 L242.67 175.62 L246.49 173.90 L250.37 172.21 L254.33 170.53 L258.35 168.88 L262.43 167.25 L266.58 165.64 L270.79 164.05 L275.05 162.49 L279.37 160.95 L283.75 159.44 L288.18 157.95 L292.67 156.49 L297.20 155.05 L301.78 153.64 L306.42 152.26 L311.10 150.90 L315.82 149.57 L320.59 148.26 L325.41 146.98 L330.26 145.72 L335.16 144.49 L340.10 143.28 L345.07 142.10 L350.09 140.94 L355.14 139.80 L360.22 138.69 L365.34 137.60 L370.50 136.53 L375.69 135.48 L380.91 134.46 L386.16 133.45 L391.44 132.47 L396.75 131.50 L402.09 130.55 L407.46 129.62 L412.86 128.70 L418.28 127.80" stroke="#d1af3f"/>
<path d="M270.62 -4.54 L264.48 10.57 L258.73 24.58 L253.47 37.58 L248.64 49.69 L244.08 60.96 L239.40 71.47 L235.00 81.29 L230.84 90.47 L226.91 99.07 L223.19 107.12 L219.68 114.68 L216.34 121.77 L213.19 128.43 L210.19 134.70 L207.34 140.59 L204.64 146.15 L202.07 151.38 L199.52 156.31 L197.09 160.96 L194.78 165.35 L192.58 169.49 L190.48 173.40 L188.49 177.10 L186.59 180.60 L184.78 183.90 L183.05 187.03 L181.40 189.98 L179.83 192.78 L178.33 195.43 L176.90 197.93 L175.54 200.30 L174.23 202.55 L172.99 204.67 L171.81 206.68 L170.68 208.59 L169.60 210.39 L168.57 212.10 L167.59 213.71 L166.66 215.24 L165.77 216.68 L164.92 218.05 L164.11 219.34 L163.34 220.56 L162.61 221.71 L161.91 222.80 L161.25 223.83 L160.62 224.80 L160.02 225.71 L159.46 226.57 L158.92 227.38 L158.41 228.14 L157.93 228.86 L157.47 229.53 L157.04 230.16 L156.64 230.75 L156.26 231.30 L155.90 231.82 L155.56 232.30 L155.25 232.74 L154.95 233.15 L154.68 233.54 L154.42 233.89 L154.18 234.22 L153.97 234.52 L153.76 234.79 L153.58 235.04 L153.41 235.26 L153.26 235.46 L153.12 235.65 L153.00 235.80 L152.90 235.94 L152.80 236.06 L152.72 236.17 L152.66 236.25 L152.60 236.32 L152.56 236.37 L152.53 236.41 L152.52 236.43 L152.51 236.44 L152.51 236.44 L152.51 236.43 L152.52 236.43 L152.52 236.42 L152.54 236.40 L152.56 236.37 L152.60 236.31 L152.67 236.23 L152.76 236.12 L152.88 235.96 L153.05 235.76 L153.25 235.50 L153.52 235.18 L153.84 234.79 L154.22 234.33 L154.68 233.80 L155.21 233.19 L155.82 232.49 L156.52 231.72 L157.31 230.85 L158.20 229.91 L159.18 228.88 L160.26 227.76 L161.45 226.57 L162.74 225.30 L164.14 223.96 L165.65 222.54 L167.26 221.06 L168.98 219.52 L170.81 217.92 L172.75 216.27 L174.80 214.57 L176.96 212.82 L179.22 211.04 L181.59 209.23 L184.06 207.38 L186.63 205.51 L189.30 203.62 L192.07 201.72 L194.94 199.80 L197.90 197.88 L200.95 195.95 L204.10 194.02 L207.33 192.09 L210.65 190.17 L214.06 188.25 L217.55 186.35 L221.11 184.46 L224.76 182.58 L228.48 180.72 L232.28 178.88 L236.15 177.05 L240.09 175.25 L244.10 173.47 L248.18 171.72 L252.32 169.99 L256.52 168.29 L260.79 166.61 L265.12 164.96 L269.50 163.34 L273.94 161.74 L278.44 160.18 L282.98 158.64 L287.58 157.13 L292.24 155.65 L296.94 154.20 L301.68 152.78 L306.48 151.39 L311.32 150.02 L316.20 148.68 L321.12 147.38 L326.09 146.09 L331.10 144.84 L336.14 143.62 L341.23 142.42 L346.35 141.24 L351.51 140.09 L356.70 138.97 L361.93 137.87 L367.18 136.79 L372.48 135.74 L377.80 134.71 L383.15 133.70 L388.54 132.71 L393.95 131.74 L399.39 130.79 L404.86 129.86 L410.35 128.94 L415.87 128.04" stroke="#e39e38"/>
<path d="M257.53 -4.40 L251.43 11.10 L245.72 25.47 L240.36 38.81 L235.33 51.22 L230.59 62.78 L226.07 73.56 L221.80 83.63 L217.78 93.05 L213.98 101.86 L210.38 110.12 L206.98 117.87 L203.76 125.14 L200.70 131.98 L197.80 138.41 L195.05 144.45 L192.43 150.15 L189.81 155.51 L187.30 160.57 L184.91 165.35 L182.64 169.85 L180.47 174.10 L178.42 178.12 L176.45 181.91 L174.58 185.50 L172.80 188.90 L171.10 192.10 L169.49 195.14 L167.94 198.01 L166.47 200.73 L165.06 203.30 L163.72 205.74 L162.44 208.05 L161.23 210.23 L160.06 212.30 L158.95 214.25 L157.89 216.11 L156.88 217.86 L155.92 219.52 L155.01 221.09 L154.13 222.57 L153.30 223.98 L152.51 225.31 L151.75 226.56 L151.03 227.75 L150.35 228.87 L149.70 229.92 L149.08 230.92 L148.49 231.86 L147.94 232.75 L147.41 233.58 L146.91 234.36 L146.44 235.10 L145.99 235.79 L145.57 236.44 L145.18 237.04 L144.80 237.61 L144.45 238.14 L144.12 238.64 L143.81 239.10 L143.52 239.52 L143.25 239.92 L143.00 240.28 L142.77 240.62 L142.56 240.92 L142.36 241.21 L142.18 241.46 L142.01 241.69 L141.87 241.90 L141.73 242.09 L141.61 242.25 L141.51 242.40 L141.42 242.52 L141.34 242.63 L141.27 242.71 L141.22 242.78 L141.18 242.84 L141.15 242.87 L141.14 242.89 L141.13 242.90 L141.13 242.90 L141.13 242.90 L141.14 242.90 L141.14 242.89 L141.16 242.86 L141.19 242.82 L141.23 242.76 L141.30 242.67 L141.40 242.53 L141.54 242.35 L141.72 242.11 L141.95 241.81 L142.23 241.44 L142.58 241.00 L143.00 240.47 L143.50 239.86 L144.08 239.16 L144.74 238.37 L145.50 237.49 L146.35 236.52 L147.30 235.45 L148.36 234.29 L149.52 233.04 L150.79 231.71 L152.17 230.29 L153.67 228.80 L155.27 227.23 L156.99 225.59 L158.82 223.90 L160.76 222.14 L162.81 220.33 L164.98 218.47 L167.25 216.57 L169.63 214.64 L172.12 212.67 L174.72 210.68 L177.42 208.66 L180.22 206.63 L183.12 204.59 L186.11 202.54 L189.21 200.49 L192.40 198.43 L195.67 196.38 L199.04 194.34 L202.50 192.30 L206.03 190.28 L209.66 188.27 L213.36 186.28 L217.14 184.31 L221.00 182.36 L224.93 180.43 L228.93 178.53 L233.01 176.65 L237.15 174.80 L241.36 172.97 L245.63 171.18 L249.96 169.41 L254.36 167.67 L258.82 165.97 L263.33 164.29 L267.90 162.65 L272.52 161.03 L277.20 159.45 L281.93 157.90 L286.70 156.38 L291.53 154.89 L296.40 153.43 L301.32 152.00 L306.29 150.61 L311.29 149.24 L316.34 147.90 L321.43 146.59 L326.56 145.32 L331.73 144.07 L336.94 142.84 L342.18 141.65 L347.46 140.48 L352.77 139.34 L358.12 138.22 L363.49 137.13 L368.90 136.07 L374.34 135.02 L379.82 134.00 L385.32 133.00 L390.84 132.03 L396.40 131.07 L401.98 130.13 L407.59 129.22 L413.22 128.31" stroke="#e57730"/>
<path d="M242.08 -4.39 L236.08 11.69 L230.48 26.59 L225.14 40.44 L220.10 53.32 L215.33 65.31 L210.77 76.50 L206.47 86.95 L202.42 96.73 L198.60 105.88 L194.99 114.46 L191.57 122.50 L188.33 130.06 L185.26 137.16 L182.35 143.83 L179.59 150.12 L177.01 156.03 L174.56 161.61 L172.23 166.87 L170.01 171.83 L167.90 176.51 L165.90 180.93 L163.99 185.11 L162.16 189.06 L160.43 192.79 L158.77 196.32 L157.19 199.66 L155.69 202.82 L154.18 205.81 L152.70 208.64 L151.28 211.32 L149.93 213.86 L148.65 216.26 L147.42 218.53 L146.25 220.69 L145.13 222.73 L144.07 224.66 L143.06 226.48 L142.09 228.21 L141.17 229.85 L140.29 231.40 L139.45 232.86 L138.66 234.25 L137.90 235.56 L137.18 236.79 L136.49 237.96 L135.84 239.06 L135.22 240.10 L134.64 241.08 L134.08 242.01 L133.55 242.88 L133.05 243.70 L132.58 244.47 L132.13 245.19 L131.71 245.87 L131.31 246.50 L130.94 247.09 L130.59 247.65 L130.26 248.16 L129.95 248.64 L129.66 249.09 L129.39 249.50 L129.14 249.88 L128.91 250.23 L128.70 250.55 L128.50 250.85 L128.32 251.11 L128.16 251.36 L128.01 251.58 L127.87 251.77 L127.76 251.94 L127.65 252.09 L127.56 252.22 L127.48 252.33 L127.42 252.42 L127.37 252.50 L127.33 252.55 L127.30 252.59 L127.28 252.61 L127.28 252.62 L127.28 252.62 L127.28 252.62 L127.28 252.62 L127.29 252.60 L127.31 252.58 L127.34 252.53 L127.39 252.45 L127.47 252.33 L127.58 252.17 L127.74 251.95 L127.94 251.66 L128.19 251.30 L128.51 250.86 L128.90 250.33 L129.37 249.70 L129.92 248.97 L130.56 248.14 L131.29 247.21 L132.13 246.17 L133.06 245.03 L134.11 243.78 L135.26 242.43 L136.53 240.98 L137.92 239.44 L139.41 237.81 L141.03 236.10 L142.77 234.31 L144.62 232.45 L146.59 230.52 L148.68 228.53 L150.88 226.49 L153.19 224.40 L155.62 222.28 L158.16 220.12 L160.81 217.93 L163.57 215.72 L166.44 213.49 L169.40 211.26 L172.47 209.01 L175.64 206.76 L178.90 204.51 L182.26 202.27 L185.70 200.04 L189.24 197.82 L192.87 195.62 L196.58 193.44 L200.37 191.27 L204.24 189.13 L208.19 187.02 L212.22 184.93 L216.31 182.87 L220.49 180.83 L224.73 178.83 L229.03 176.87 L233.41 174.93 L237.84 173.03 L242.34 171.16 L246.90 169.33 L251.52 167.53 L256.19 165.76 L260.92 164.03 L265.70 162.34 L270.54 160.68 L275.42 159.06 L280.35 157.47 L285.33 155.91 L290.36 154.39 L295.43 152.91 L300.55 151.46 L305.70 150.04 L310.90 148.65 L316.14 147.29 L321.42 145.97 L326.73 144.68 L332.09 143.42 L337.47 142.19 L342.90 140.98 L348.35 139.81 L353.84 138.67 L359.36 137.55 L364.91 136.46 L370.50 135.39 L376.11 134.35 L381.75 133.34 L387.41 132.35 L393.11 131.38 L398.83 130.44 L404.57 129.51 L410.34 128.61" stroke="#e24d28"/>
<path d="M221.40 -4.40 L215.68 12.42 L210.32 28.03 L205.37 42.54 L200.72 56.05 L196.13 68.63 L191.68 80.38 L187.49 91.36 L183.54 101.64 L179.81 111.26 L176.28 120.28 L172.94 128.75 L169.78 136.71 L166.78 144.19 L163.95 151.23 L161.31 157.86 L158.81 164.10 L156.43 169.99 L154.17 175.54 L152.02 180.79 L149.97 185.74 L148.02 190.41 L146.16 194.83 L144.40 199.01 L142.71 202.96 L141.00 206.70 L139.33 210.23 L137.74 213.58 L136.23 216.75 L134.78 219.75 L133.41 222.59 L132.09 225.29 L130.84 227.83 L129.64 230.25 L128.51 232.54 L127.42 234.70 L126.38 236.75 L125.40 238.69 L124.45 240.53 L123.56 242.27 L122.70 243.92 L121.89 245.48 L121.10 246.95 L120.35 248.34 L119.63 249.66 L118.96 250.90 L118.31 252.08 L117.70 253.19 L117.12 254.23 L116.57 255.22 L116.04 256.14 L115.55 257.02 L115.08 257.84 L114.64 258.61 L114.22 259.33 L113.83 260.01 L113.46 260.64 L113.11 261.23 L112.79 261.78 L112.48 262.29 L112.20 262.77 L111.93 263.21 L111.68 263.61 L111.46 263.99 L111.24 264.33 L111.05 264.65 L110.87 264.93 L110.71 265.19 L110.56 265.43 L110.43 265.63 L110.32 265.82 L110.21 265.98 L110.12 266.12 L110.05 266.24 L109.98 266.33 L109.93 266.41 L109.89 266.47 L109.87 266.51 L109.85 266.54 L109.92 266.55 L109.92 266.55 L109.93 266.54 L109.93 266.54 L109.94 266.52 L109.96 266.49 L110.00 266.42 L110.06 266.32 L110.16 266.18 L110.29 265.97 L110.47 265.69 L110.71 265.33 L111.02 264.87 L111.40 264.32 L111.86 263.66 L112.41 262.88 L113.06 261.98 L113.81 260.96 L114.67 259.82 L115.66 258.56 L116.76 257.17 L117.99 255.67 L119.35 254.05 L120.85 252.33 L122.49 250.50 L124.27 248.57 L126.18 246.56 L128.24 244.47 L130.42 242.30 L132.73 240.06 L135.14 237.77 L137.65 235.43 L140.23 233.05 L142.88 230.63 L145.58 228.18 L148.34 225.71 L151.17 223.22 L154.08 220.72 L157.10 218.22 L160.25 215.73 L163.53 213.23 L166.95 210.75 L170.49 208.28 L174.15 205.83 L177.92 203.40 L181.78 200.99 L185.73 198.61 L189.76 196.25 L193.87 193.93 L198.06 191.64 L202.31 189.38 L206.65 187.15 L211.04 184.96 L215.51 182.81 L220.04 180.70 L224.63 178.62 L229.29 176.58 L234.00 174.58 L238.77 172.61 L243.59 170.69 L248.47 168.80 L253.40 166.95 L258.37 165.14 L263.40 163.37 L268.47 161.63 L273.59 159.93 L278.75 158.27 L283.96 156.64 L289.21 155.05 L294.49 153.49 L299.82 151.97 L305.18 150.48 L310.58 149.02 L316.02 147.60 L321.49 146.21 L327.00 144.85 L332.54 143.53 L338.11 142.23 L343.71 140.96 L349.34 139.72 L355.00 138.52 L360.69 137.34 L366.41 136.18 L372.16 135.06 L377.93 133.97 L383.74 132.90 L389.57 131.86 L395.42 130.85 L401.31 129.87 L407.22 128.93" stroke="#db2122"/>
</g>
<g stroke="#6e6e6e" stroke-width="1" fill="none">
<rect x="56.0" y="30.8" width="385.5" height="250.7"/>
<line x1="71.42" y1="281.50" x2="71.42" y2="279.20"/><line x1="71.42" y1="30.80" x2="71.42" y2="33.10"/><line x1="86.84" y1="281.50" x2="86.84" y2="279.20"/><line x1="86.84" y1="30.80" x2="86.84" y2="33.10"/><line x1="102.26" y1="281.50" x2="102.26" y2="279.20"/><line x1="102.26" y1="30.80" x2="102.26" y2="33.10"/><line x1="117.68" y1="281.50" x2="117.68" y2="279.20"/><line x1="117.68" y1="30.80" x2="117.68" y2="33.10"/><line x1="133.10" y1="281.50" x2="133.10" y2="277.50"/><line x1="133.10" y1="30.80" x2="133.10" y2="34.80"/><line x1="148.52" y1="281.50" x2="148.52" y2="279.20"/><line x1="148.52" y1="30.80" x2="148.52" y2="33.10"/><line x1="163.94" y1="281.50" x2="163.94" y2="279.20"/><line x1="163.94" y1="30.80" x2="163.94" y2="33.10"/><line x1="179.36" y1="281.50" x2="179.36" y2="279.20"/><line x1="179.36" y1="30.80" x2="179.36" y2="33.10"/><line x1="194.78" y1="281.50" x2="194.78" y2="279.20"/><line x1="194.78" y1="30.80" x2="194.78" y2="33.10"/><line x1="210.20" y1="281.50" x2="210.20" y2="277.50"/><line x1="210.20" y1="30.80" x2="210.20" y2="34.80"/><line x1="225.62" y1="281.50" x2="225.62" y2="279.20"/><line x1="225.62" y1="30.80" x2="225.62" y2="33.10"/><line x1="241.04" y1="281.50" x2="241.04" y2="279.20"/><line x1="241.04" y1="30.80" x2="241.04" y2="33.10"/><line x1="256.46" y1="281.50" x2="256.46" y2="279.20"/><line x1="256.46" y1="30.80" x2="256.46" y2="33.10"/><line x1="271.88" y1="281.50" x2="271.88" y2="279.20"/><line x1="271.88" y1="30.80" x2="271.88" y2="33.10"/><line x1="287.30" y1="281.50" x2="287.30" y2="277.50"/><line x1="287.30" y1="30.80" x2="287.30" y2="34.80"/><line x1="302.72" y1="281.50" x2="302.72" y2="279.20"/><line x1="302.72" y1="30.80" x2="302.72" y2="33.10"/><line x1="318.14" y1="281.50" x2="318.14" y2="279.20"/><line x1="318.14" y1="30.80" x2="318.14" y2="33.10"/><line x1="333.56" y1="281.50" x2="333.56" y2="279.20"/><line x1="333.56" y1="30.80" x2="333.56" y2="33.10"/><line x1="348.98" y1="281.50" x2="348.98" y2="279.20"/><line x1="348.98" y1="30.80" x2="348.98" y2="33.10"/><line x1="364.40" y1="281.50" x2="364.40" y2="277.50"/><line x1="364.40" y1="30.80" x2="364.40" y2="34.80"/><line x1="379.82" y1="281.50" x2="379.82" y2="279.20"/><line x1="379.82" y1="30.80" x2="379.82" y2="33.10"/><line x1="395.24" y1="281.50" x2="395.24" y2="279.20"/><line x1="395.24" y1="30.80" x2="395.24" y2="33.10"/><line x1="410.66" y1="281.50" x2="410.66" y2="279.20"/><line x1="410.66" y1="30.80" x2="410.66" y2="33.10"/><line x1="426.08" y1="281.50" x2="426.08" y2="279.20"/><line x1="426.08" y1="30.80" x2="426.08" y2="33.10"/><line x1="56.00" y1="270.10" x2="58.30" y2="270.10"/><line x1="441.50" y1="270.10" x2="439.20" y2="270.10"/><line x1="56.00" y1="258.71" x2="60.00" y2="258.71"/><line x1="441.50" y1="258.71" x2="437.50" y2="258.71"/><line x1="56.00" y1="247.31" x2="58.30" y2="247.31"/><line x1="441.50" y1="247.31" x2="439.20" y2="247.31"/><line x1="56.00" y1="235.92" x2="58.30" y2="235.92"/><line x1="441.50" y1="235.92" x2="439.20" y2="235.92"/><line x1="56.00" y1="224.52" x2="58.30" y2="224.52"/><line x1="441.50" y1="224.52" x2="439.20" y2="224.52"/><line x1="56.00" y1="213.13" x2="60.00" y2="213.13"/><line x1="441.50" y1="213.13" x2="437.50" y2="213.13"/><line x1="56.00" y1="201.73" x2="58.30" y2="201.73"/><line x1="441.50" y1="201.73" x2="439.20" y2="201.73"/><line x1="56.00" y1="190.34" x2="58.30" y2="190.34"/><line x1="441.50" y1="190.34" x2="439.20" y2="190.34"/><line x1="56.00" y1="178.94" x2="58.30" y2="178.94"/><line x1="441.50" y1="178.94" x2="439.20" y2="178.94"/><line x1="56.00" y1="167.55" x2="60.00" y2="167.55"/><line x1="441.50" y1="167.55" x2="437.50" y2="167.55"/><line x1="56.00" y1="156.15" x2="58.30" y2="156.15"/><line x1="441.50" y1="156.15" x2="439.20" y2="156.15"/><line x1="56.00" y1="144.75" x2="58.30" y2="144.75"/><line x1="441.50" y1="144.75" x2="439.20" y2="144.75"/><line x1="56.00" y1="133.36" x2="58.30" y2="133.36"/><line x1="441.50" y1="133.36" x2="439.20" y2="133.36"/><line x1="56.00" y1="121.96" x2="60.00" y2="121.96"/><line x1="441.50" y1="121.96" x2="437.50" y2="121.96"/><line x1="56.00" y1="110.57" x2="58.30" y2="110.57"/><line x1="441.50" y1="110.57" x2="439.20" y2="110.57"/><line x1="56.00" y1="99.17" x2="58.30" y2="99.17"/><line x1="441.50" y1="99.17" x2="439.20" y2="99.17"/><line x1="56.00" y1="87.78" x2="58.30" y2="87.78"/><line x1="441.50" y1="87.78" x2="439.20" y2="87.78"/><line x1="56.00" y1="76.38" x2="60.00" y2="76.38"/><line x1="441.50" y1="76.38" x2="437.50" y2="76.38"/><line x1="56.00" y1="64.99" x2="58.30" y2="64.99"/><line x1="441.50" y1="64.99" x2="439.20" y2="64.99"/><line x1="56.00" y1="53.59" x2="58.30" y2="53.59"/><line x1="441.50" y1="53.59" x2="439.20" y2="53.59"/><line x1="56.00" y1="42.20" x2="58.30" y2="42.20"/><line x1="441.50" y1="42.20" x2="439.20" y2="42.20"/>
</g>
<rect x="471.5" y="71.2" width="16.19999999999999" height="194.3" fill="url(#g)"/>
<g stroke="#ddd" stroke-width="0.6"><line x1="487.7" y1="265.50" x2="491.7" y2="265.50"/><line x1="487.7" y1="255.78" x2="491.7" y2="255.78"/><line x1="487.7" y1="246.07" x2="491.7" y2="246.07"/><line x1="487.7" y1="236.35" x2="491.7" y2="236.35"/><line x1="487.7" y1="226.64" x2="491.7" y2="226.64"/><line x1="487.7" y1="216.93" x2="491.7" y2="216.93"/><line x1="487.7" y1="207.21" x2="491.7" y2="207.21"/><line x1="487.7" y1="197.50" x2="491.7" y2="197.50"/><line x1="487.7" y1="187.78" x2="491.7" y2="187.78"/><line x1="487.7" y1="178.06" x2="491.7" y2="178.06"/><line x1="487.7" y1="168.35" x2="491.7" y2="168.35"/><line x1="487.7" y1="158.63" x2="491.7" y2="158.63"/><line x1="487.7" y1="148.92" x2="491.7" y2="148.92"/><line x1="487.7" y1="139.20" x2="491.7" y2="139.20"/><line x1="487.7" y1="129.49" x2="491.7" y2="129.49"/><line x1="487.7" y1="119.77" x2="491.7" y2="119.77"/><line x1="487.7" y1="110.06" x2="491.7" y2="110.06"/><line x1="487.7" y1="100.34" x2="491.7" y2="100.34"/><line x1="487.7" y1="90.63" x2="491.7" y2="90.63"/><line x1="487.7" y1="80.91" x2="491.7" y2="80.91"/><line x1="487.7" y1="71.20" x2="491.7" y2="71.20"/></g>
<g fill="none" stroke="#666" stroke-linecap="round" stroke-linejoin="round">
<path stroke-width="0.85" d="M253.7 313.2 C254.3 312.2 253.6 311.1 252.3 311.0 C250.6 310.9 249.9 312.4 249.4 313.8 C248.7 315.9 248.0 318.4 246.7 320.3 C245.9 321.4 244.6 321.9 243.6 321.3 C244.6 320.5 246.6 321.0 248.2 321.7 C250.0 322.5 252.3 322.9 253.9 320.8"/>
<path stroke-width="1.5" d="M249.9 313.0 C249.2 315.0 248.3 317.6 247.1 319.8"/>
<path stroke-width="1.5" d="M245.4 321.0 C247.4 321.2 249.4 322.4 251.8 322.5"/>
<circle cx="253.5" cy="313.0" r="0.55" fill="#666" stroke="none"/>
<path stroke-width="1.15" d="M4.6 151.8 C3.2 152.2 2.4 153.6 2.7 155.0 C3.0 156.8 4.2 157.9 5.2 157.6 C6.2 157.3 6.6 156.0 6.5 154.6"/>
<path stroke-width="1.15" d="M6.7 153.6 C6.3 156.0 7.2 158.6 9.0 159.6 C10.8 160.5 12.4 159.2 12.9 157.0 C13.4 154.6 12.4 152.4 10.8 151.6 C10.2 151.3 9.6 151.3 9.3 151.6"/>
</g>
</svg>
<div class="title"><i>a</i> = 0.1 <i>M</i>, <i>q</i> = 0.01 <i>M</i></div>
<div class="xl" style="left:36.0px">2.5</div><div class="xl" style="left:113.1px">3.0</div><div class="xl" style="left:190.2px">3.5</div><div class="xl" style="left:267.3px">4.0</div><div class="xl" style="left:344.4px">4.5</div><div class="xl" style="left:421.5px">5.0</div><div class="yl" style="top:21.3px">1.02</div><div class="yl" style="top:66.9px">1.00</div><div class="yl" style="top:112.5px">0.98</div><div class="yl" style="top:158.0px">0.96</div><div class="yl" style="top:203.6px">0.94</div><div class="yl" style="top:249.2px">0.92</div><div class="cl" style="top:61.0px">1.0</div><div class="cl" style="top:99.9px">0.8</div><div class="cl" style="top:138.7px">0.6</div><div class="cl" style="top:177.6px">0.4</div><div class="cl" style="top:216.4px">0.2</div><div class="cl" style="top:255.3px">0.</div>
<div class="qm">Q/M</div>
</body></html>
